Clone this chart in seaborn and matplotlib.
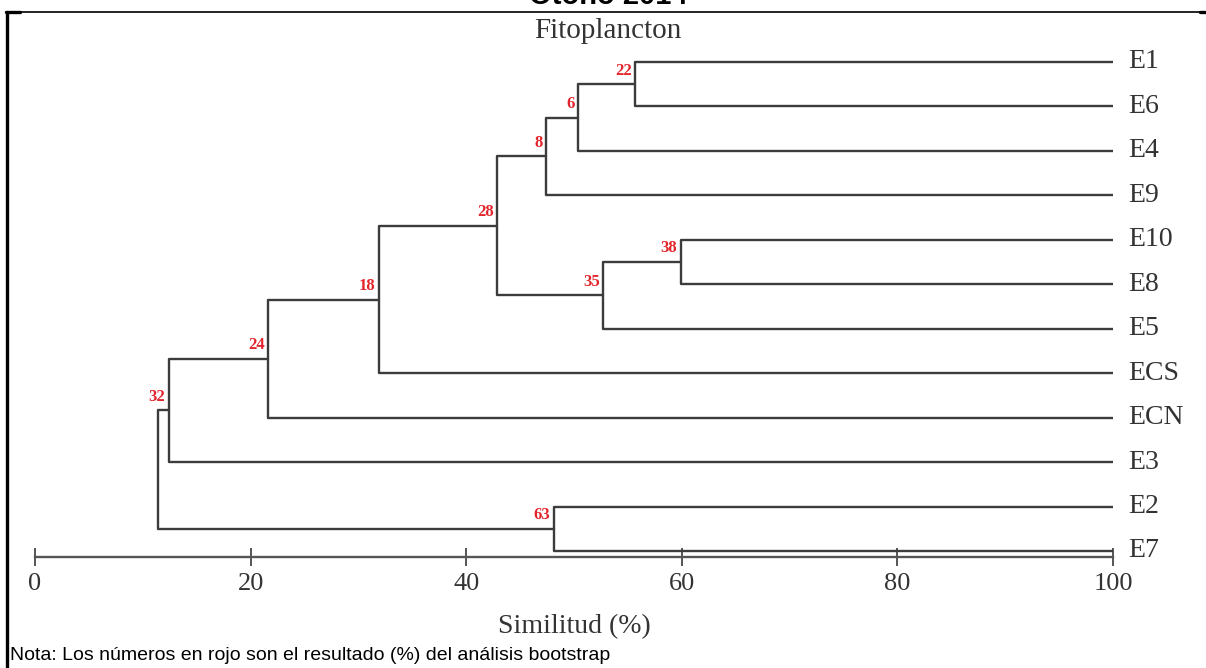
import matplotlib
matplotlib.use("Agg")
import matplotlib.pyplot as plt
from matplotlib.lines import Line2D
import numpy as np
import pandas as pd
import seaborn as sns

# Leaf order (top to bottom) of the dendrogram
leaves = ["E1", "E6", "E4", "E9", "E10", "E8", "E5", "ECS", "ECN", "E3", "E2", "E7"]

# Agglomeration steps: joined clusters, similarity at the join (%) and bootstrap support (%)
merge_names = ["A", "B", "C", "D", "F", "G", "H", "I", "J", "K", "R"]
merge_left = ["E1", "A", "B", "E10", "D", "C", "G", "H", "I", "E2", "J"]
merge_right = ["E6", "E4", "E9", "E8", "E5", "F", "ECS", "ECN", "E3", "E7", "K"]
similarity = [55.7, 50.4, 47.4, 59.9, 52.7, 42.9, 31.9, 21.6, 12.4, 48.1, 11.4]
bootstrap = [22, 6, 8, 38, 35, 28, 18, 24, 32, 63, None]

x_ticks = [0, 20, 40, 60, 80, 100]

# ---- node coordinates -------------------------------------------------------
pos = {name: (100.0, float(i)) for i, name in enumerate(leaves)}
rows = []
for name, left, right, sim in zip(merge_names, merge_left, merge_right, similarity):
    (xl, yl), (xr, yr) = pos[left], pos[right]
    path = [(xl, yl), (sim, yl), (sim, yr), (xr, yr)]
    for order, (px, py) in enumerate(path):
        rows.append({"node": name, "order": order, "x": px, "y": py})
    pos[name] = (sim, (yl + yr) / 2.0)
segments = pd.DataFrame(rows)

# ---- figure -----------------------------------------------------------------
sns.set_theme(style="white")
plt.rcParams["font.family"] = ["Liberation Serif", "DejaVu Serif"]

W, H = 1206, 668
fig = plt.figure(figsize=(W / 100, H / 100), dpi=100)
ax_left, ax_right = 35, 1113
ax_top, ax_bot = 40, 560
ax = fig.add_axes([ax_left / W, (H - ax_bot) / H, (ax_right - ax_left) / W, (ax_bot - ax_top) / H])

line_col = "#3c3c3c"
text_col = "#333333"

sns.lineplot(data=segments, x="x", y="y", units="node", estimator=None, sort=False,
             color=line_col, linewidth=1.7, ax=ax, legend=False)

leaf_step = 44.45
ax.set_xlim(0, 100)
ax.set_ylim((ax_bot - 62) / leaf_step, (ax_top - 62) / leaf_step)

for s in ["left", "top", "right"]:
    ax.spines[s].set_visible(False)
ax.spines["bottom"].set_position(("data", 11.13))
ax.spines["bottom"].set_color("#555555")
ax.spines["bottom"].set_linewidth(1.7)
ax.set_yticks([])
ax.set_xticks(x_ticks)
ax.set_xticklabels([str(t) for t in x_ticks])
ax.tick_params(axis="x", direction="inout", length=13, width=1.4, color="#555555",
               labelsize=19, labelcolor=text_col, pad=5, bottom=True)
ax.set_xlabel("Similitud (%)", fontsize=20, color=text_col, labelpad=14)
ax.set_ylabel("")
ax.patch.set_alpha(0)

# leaf names
for name in leaves:
    x, y = pos[name]
    ax.annotate(name, (x, y), xytext=(11, 0), textcoords="offset points",
                ha="left", va="center", fontsize=20, color=text_col, annotation_clip=False)

# bootstrap support at each node
for name, b in zip(merge_names, bootstrap):
    if b is None:
        continue
    x, y = pos[name]
    ax.annotate(str(b), (x, y), xytext=(-2.5, 4), textcoords="offset points",
                ha="right", va="bottom", fontsize=12, fontweight="bold",
                color="#e3242b", annotation_clip=False)

# titles and note
fig.text(608 / W, 1 - 31 / H, "Fitoplancton", ha="center", va="center",
         fontsize=21, color=text_col)
fig.text(608 / W, 1 - 4 / H, "Otoño 2014", ha="center", va="baseline",
         fontsize=21, fontweight="bold", family=["Liberation Sans", "DejaVu Sans"], color="black")
fig.text(10 / W, 1 - 656 / H, "Nota: Los números en rojo son el resultado (%) del análisis bootstrap",
         ha="left", va="center", fontsize=14, family=["Liberation Sans", "DejaVu Sans"], color="black")

# frame lines
ytop = 1 - 12 / H
fig.add_artist(Line2D([6 / W, 1], [ytop, ytop], transform=fig.transFigure, color="black", lw=1.2))
fig.add_artist(Line2D([6 / W, 20 / W], [ytop, ytop], transform=fig.transFigure, color="black", lw=2.4))
fig.add_artist(Line2D([1200 / W, 1], [ytop, ytop], transform=fig.transFigure, color="black", lw=2.4))
fig.add_artist(Line2D([7 / W, 7 / W], [0, ytop], transform=fig.transFigure, color="black", lw=2.4))

fig.savefig("out.png", dpi=100)
